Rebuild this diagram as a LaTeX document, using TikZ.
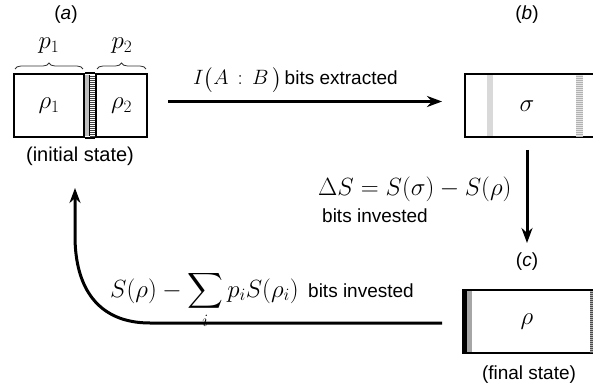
\documentclass[tikz,border=0pt]{standalone}
\usepackage{exscale}
\usepackage{fontspec}
\setmainfont{Liberation Sans}
\usetikzlibrary{arrows.meta, positioning, decorations.pathreplacing}

\begin{document}
\begin{tikzpicture}[x=1pt, y=-1pt,
    cell/.style={rectangle, draw=black, line width=2pt, inner sep=0pt, minimum height=63pt},
    arrow/.style={-{Stealth[length=15pt, width=11pt]}, line width=3pt},
    lbl/.style={font=\fontsize{19}{22}\selectfont, inner sep=0pt},
    mth/.style={font=\fontsize{24}{27}\selectfont, inner sep=0pt},
    brc/.style={decorate, decoration={brace, amplitude=6pt}, line width=0.8pt, draw=black!80}
]
    \useasboundingbox (0,0) rectangle (593,387);

    % (a) initial state
    \node[lbl] (taga) at (66,15) {(\textit{a})};
    \node[cell, mth, minimum width=70pt] (rho1) at (49,105.5) {$\rho_1$};
    \node[cell, mth, minimum width=51pt] (rho2) at (121.5,105.5) {$\rho_2$};
    \draw[line width=2pt] (rho1.north east) -- (rho2.north west) (rho1.south east) -- (rho2.south west);
    \fill[black!25] (85,75) rectangle (89,136);
    \draw[line width=0.8pt] (89.5,75) -- (89.5,136);
    \foreach \y in {76,78,...,136}
        \draw[black!75, line width=0.7pt] (90,\y) -- (95,\y);
    \node[mth] (p1) at (49,46) {$p_1$};
    \node[mth] (p2) at (122,46) {$p_2$};
    \draw[brc] (15,69) -- (83,69);
    \draw[brc] (97,69) -- (146,69);
    \node[lbl, font=\fontsize{20}{23}\selectfont] (init) at (80,156) {(initial state)};

    % (b)
    \node[lbl] (tagb) at (527,15) {(\textit{b})};
    \node[cell, minimum width=140pt] (boxb) at (535,105.5) {};
    \fill[black!15] (487,75) rectangle (493,136);
    \fill[black!10] (576,75) rectangle (583,136);
    \foreach \y in {76,78,...,136}
        \draw[black!30, line width=0.5pt] (576,\y) -- (583,\y);
    \node[mth] (sigma) at (527,106) {$\sigma$};

    % (c) final state
    \node[lbl] (tagc) at (527,262) {(\textit{c})};
    \node[cell, minimum width=134pt] (boxc) at (530,321.5) {};
    \fill (463,290) rectangle (467,353);
    \fill[black!35] (467,291) rectangle (472,352);
    \fill[black!30] (590,291) rectangle (593,352);
    \foreach \y in {292,294,...,352}
        \draw[black!70, line width=0.5pt] (590,\y) -- (593,\y);
    \node[mth] (rhoc) at (527,322) {$\rho$};
    \node[lbl] (final) at (529,375) {(final state)};

    % arrows and labels
    \draw[arrow] ([xshift=20pt, yshift=4pt]rho2.east) -- ([xshift=-22pt, yshift=4pt]boxb.west);
    \node[lbl, anchor=base west] (gain) at (193,85) {{\fontsize{22}{26}\selectfont$I\bigl(A \,:\, B\,\bigr)$}\,bits extracted};

    \coordinate (vtop) at (527,150);
    \coordinate (vbot) at (527,243);
    \draw[arrow] (vtop) -- (vbot);
    \node[mth, anchor=base west] (dS) at (318,195) {$\Delta S = S(\sigma) - S(\rho)$};
    \node[lbl, anchor=base west] (dSbits) at (322,222) {bits invested};

    \coordinate (ret) at (75,188);
    \draw[arrow] ([xshift=-20pt, yshift=-1.5pt]boxc.west) -- (150,323)
        .. controls (98,323) and (75,288) .. (75,236) -- (ret);
    \node[lbl, anchor=base west] (loss) at (110,297) {{\fontsize{27}{30}\selectfont$S(\rho) - \displaystyle\sum_i p_i S(\rho_i)$}\enspace bits invested};
\end{tikzpicture}
\end{document}
